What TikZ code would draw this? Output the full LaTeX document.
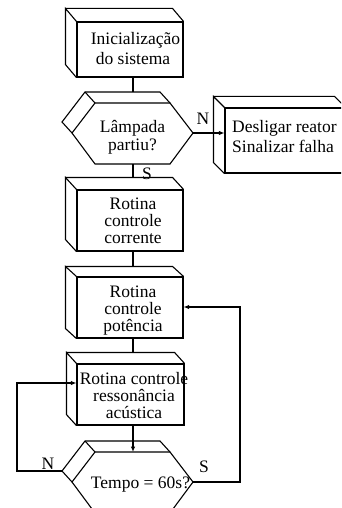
\documentclass[tikz,border=0pt]{standalone}
\usepackage{fontspec}
\setmainfont{Liberation Serif}
\usetikzlibrary{calc,arrows.meta}
\newcommand\backbox[3]{%
  \draw[ln] (#1.north west) -- ++(#2,#3) coordinate (#1k) -- ($(#1.south west)+(#2,#3)$) -- (#1.south west);
  \draw[ln] (#1k) -- ($(#1.north east)+(#2,#3)$) -- (#1.north east);}
\begin{document}
\begin{tikzpicture}[x=1pt,y=-1pt,
  ln/.style={line width=1.1pt},
  front/.style={ln, draw, fill=white, inner sep=0pt, minimum width=106pt, minimum height=61pt},
  txt/.style={font=\fontsize{17.5}{18}\selectfont, anchor=base, inner sep=0pt},
  lbl/.style={font=\fontsize{17.5}{18}\selectfont, inner sep=0pt},
  arr/.style={ln, -{Latex[length=5.5pt,width=4.5pt]}},
]
\useasboundingbox (0,0) rectangle (341,508);
\clip (0,0) rectangle (341,508);

% boxes
\node[front, minimum height=55pt] (b1) at (130,49.5) {};
\backbox{b1}{-11}{-13}
\node[front] (b4) at (130,220.5) {};
\backbox{b4}{-11}{-12}
\node[front] (b5) at (130,307.5) {};
\backbox{b5}{-11}{-10}
\node[front, minimum width=107pt] (b6) at (130.5,394.5) {};
\backbox{b6}{-10}{-11}
\node[front, minimum width=120pt, minimum height=65pt] (bD) at (285,140.5) {};
\backbox{bD}{-11}{-11}

% hexagon 1
\coordinate (h1l) at (72,133);
\coordinate (h1tl) at (95,103);
\coordinate (h1tr) at (170,103);
\coordinate (h1r) at (193,133);
\coordinate (h1br) at (170,164);
\coordinate (h1bl) at (95,164);
\draw[ln, fill=white] (h1l) -- (h1tl) -- (h1tr) -- (h1r) -- (h1br) -- (h1bl) -- cycle;
\draw[ln] (h1l) -- ($(h1l)+(-10,-11)$) coordinate (h1kl) -- ($(h1tl)+(-10,-11)$) coordinate (h1kt) -- ($(h1tr)+(-10,-11)$) -- (h1tr);
\draw[ln] (h1kt) -- (h1tl);
\coordinate (h1t) at (133,92);
\coordinate (h1b) at (133,164);

% hexagon 2
\coordinate (h2l) at (72,482);
\coordinate (h2tl) at (95,452);
\coordinate (h2tr) at (170,452);
\coordinate (h2r) at (193,482);
\coordinate (h2br) at (170,513);
\coordinate (h2bl) at (95,513);
\draw[ln, fill=white] (h2l) -- (h2tl) -- (h2tr) -- (h2r) -- (h2br) -- (h2bl) -- cycle;
\draw[ln] (h2l) -- ($(h2l)+(-10,-11)$) coordinate (h2kl) -- ($(h2tl)+(-10,-11)$) coordinate (h2kt) -- ($(h2tr)+(-10,-11)$) -- (h2tr);
\draw[ln] (h2kt) -- (h2tl);
\coordinate (h2t) at (133,452);

% connectors
\draw[ln] (h1t |- b1.south) -- (h1t);
\draw[ln] (h1b) -- (h1b |- b4k);
\draw[ln] (h1b |- b4.south) -- (h1b |- b5k);
\draw[ln] (h1b |- b5.south) -- (h1b |- b6k);
\draw[arr] (h1b |- b6.south) -- (h2t);
\draw[arr] (h1r) -- (h1r -| bD.west);
\coordinate (nl) at (17,383);
\draw[arr] (h2kl) -| (nl) -- (nl -| b6.west);
\coordinate (sr) at (240,307);
\draw[arr] (h2r) -| (sr) -- (sr -| b5.east);

% labels
\node[lbl] (n1) at (203,119) {N};
\node[lbl] (s1) at (147,174) {S};
\node[lbl] (n2) at (48,464) {N};
\node[lbl] (s2) at (204,467) {S};

% texts
\node[txt] (t1a) at (135.5,45) {Inicialização};
\node[txt] (t1b) at (133,65) {do sistema};
\node[txt] (t2a) at (132.5,132) {Lâmpada};
\node[txt] (t2b) at (132.5,150) {partiu?};
\node[txt, anchor=base west] (t3a) at (232,132) {Desligar reator};
\node[txt, anchor=base west] (t3b) at (232,152) {Sinalizar falha};
\node[txt] (t4a) at (133,209) {Rotina};
\node[txt] (t4b) at (133,226) {controle};
\node[txt] (t4c) at (133,243) {corrente};
\node[txt] (t5a) at (133,297) {Rotina};
\node[txt] (t5b) at (133,314) {controle};
\node[txt] (t5c) at (133,331) {potência};
\node[txt] (t6a) at (134,384) {Rotina controle};
\node[txt] (t6b) at (134,401) {ressonância};
\node[txt] (t6c) at (134,418) {acústica};
\node[txt] (t7) at (140.5,488) {Tempo = 60s?};
\end{tikzpicture}
\end{document}
